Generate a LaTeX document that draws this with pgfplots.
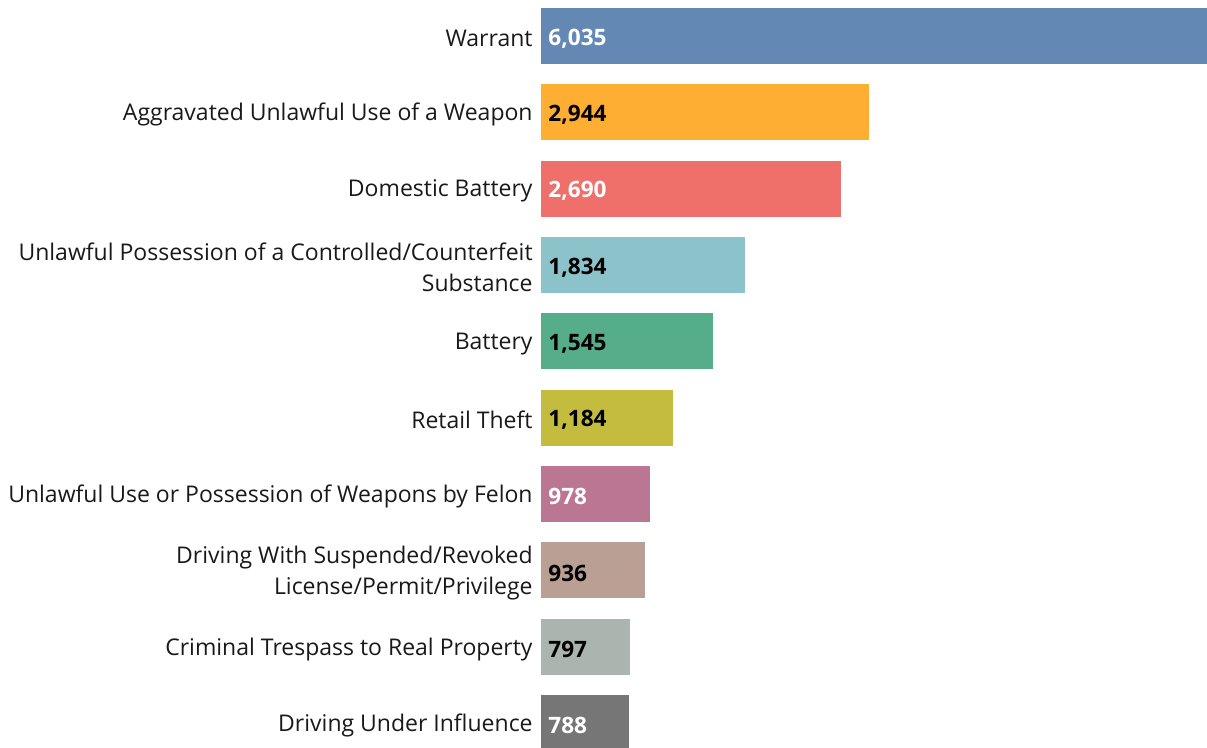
\documentclass[border=0pt]{standalone}
\usepackage{pgfplots}
\pgfplotsset{compat=1.18}
\usepackage{fontspec}
\setmainfont{Open Sans}
\definecolor{c1}{HTML}{6388B4}
\definecolor{c2}{HTML}{FFAE34}
\definecolor{c3}{HTML}{EF6F6A}
\definecolor{c4}{HTML}{8CC2CA}
\definecolor{c5}{HTML}{55AD89}
\definecolor{c6}{HTML}{C3BC3F}
\definecolor{c7}{HTML}{BB7693}
\definecolor{c8}{HTML}{BAA094}
\definecolor{c9}{HTML}{A9B5AE}
\definecolor{c10}{HTML}{767676}
\begin{document}
\begin{tikzpicture}
\useasboundingbox (-270.5pt,0) rectangle (333pt,374pt);
\begin{axis}[
  scale only axis, width=336.2pt, height=374pt,
  xmin=0, xmax=6035, ymin=-0.4716, ymax=9.3275, y dir=reverse,
  xbar, bar width=0.734, bar shift=0pt,
  axis line style={draw=none}, major tick length=0pt,
  xtick=\empty, ytick={0,...,9},
  yticklabels={Warrant, Aggravated Unlawful Use of a Weapon, Domestic Battery,
    {Unlawful Possession of a Controlled/Counterfeit\\Substance}, Battery, Retail Theft,
    Unlawful Use or Possession of Weapons by Felon,
    {Driving With Suspended/Revoked\\License/Permit/Privilege},
    Criminal Trespass to Real Property, Driving Under Influence},
  yticklabel style={align=right, font=\fontsize{11.5}{15.5}\selectfont, inner sep=0pt, xshift=-4pt, yshift=-1.3pt, text=black!90},
  /pgf/number format/1000 sep={,},
  /pgf/number format/assume math mode=true,
  nodes near coords, point meta=x,
  visualization depends on={x \as \rawx},
  every node near coord/.append style={anchor=west, inner sep=3.5pt, yshift=-1.3pt, shift={(axis direction cs:-\rawx,0)}, font=\fontsize{11.3}{12}\selectfont\bfseries},
]
\addplot[fill=c1, draw=none, every node near coord/.append style={text=white}] coordinates {(6035,0)};
\addplot[fill=c2, draw=none, every node near coord/.append style={text=black}] coordinates {(2944,1)};
\addplot[fill=c3, draw=none, every node near coord/.append style={text=white}] coordinates {(2690,2)};
\addplot[fill=c4, draw=none, every node near coord/.append style={text=black}] coordinates {(1834,3)};
\addplot[fill=c5, draw=none, every node near coord/.append style={text=black}] coordinates {(1545,4)};
\addplot[fill=c6, draw=none, every node near coord/.append style={text=black}] coordinates {(1184,5)};
\addplot[fill=c7, draw=none, every node near coord/.append style={text=white}] coordinates {(978,6)};
\addplot[fill=c8, draw=none, every node near coord/.append style={text=black}] coordinates {(936,7)};
\addplot[fill=c9, draw=none, every node near coord/.append style={text=black}] coordinates {(797,8)};
\addplot[fill=c10, draw=none, every node near coord/.append style={text=white}] coordinates {(788,9)};
\end{axis}
\end{tikzpicture}
\end{document}
